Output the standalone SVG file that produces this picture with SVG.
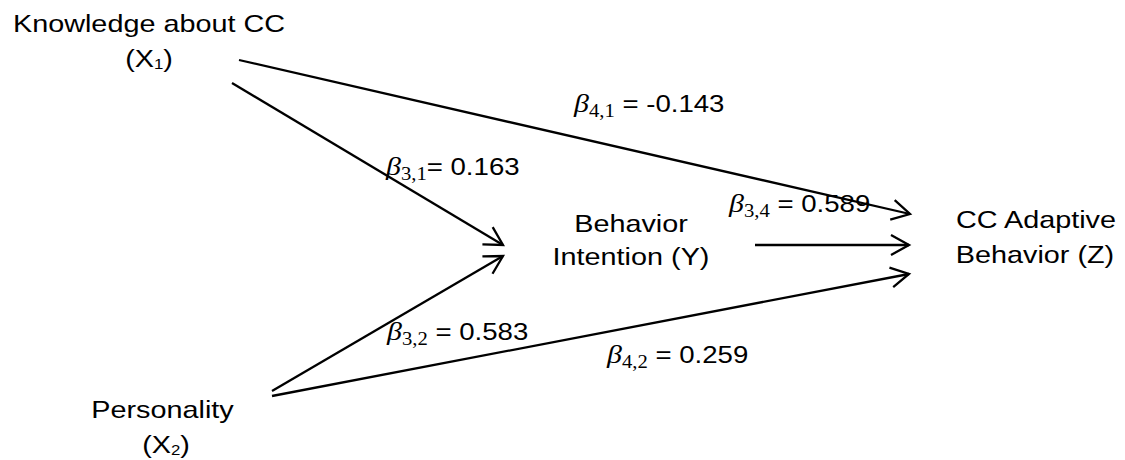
<svg xmlns="http://www.w3.org/2000/svg" width="1125" height="460" viewBox="0 0 1125 460">
<style>
text{font-family:"Liberation Sans",Arial,sans-serif;font-size:24px;fill:#000}
.n{text-anchor:middle}
.b{font-family:"Liberation Serif","DejaVu Serif",serif;font-style:italic;font-size:26px}
.s{font-family:"Liberation Serif","DejaVu Serif",serif;font-size:18px}
.sub{font-size:14px}
.c{fill:none;stroke:#000;stroke-width:2.3;marker-end:url(#arr)}
</style>
<defs>
<marker id="arr" markerUnits="userSpaceOnUse" markerWidth="24" markerHeight="24" refX="20" refY="11" orient="auto" overflow="visible">
<path d="M2,1 L20,11 L2,21" fill="none" stroke="#000" stroke-width="2.3"/>
</marker>
</defs>
<rect width="1125" height="460" fill="#fff"/>
<g id="connectors">
<line class="c" x1="239" y1="60" x2="910" y2="214"/>
<line class="c" x1="232" y1="83" x2="503" y2="245"/>
<line class="c" x1="272" y1="391" x2="503" y2="256"/>
<line class="c" x1="272" y1="396" x2="909" y2="274"/>
<line class="c" x1="755" y1="245" x2="909" y2="245"/>
</g>
<g id="node-x1">
<text class="n" transform="translate(149,32) scale(1.2,1)">Knowledge about CC</text>
<text class="n" transform="translate(149,67) scale(1.2,1)">(X<tspan class="sub" dy="2">1</tspan><tspan dy="-2">)</tspan></text>
</g>
<g id="node-x2">
<text class="n" transform="translate(162.5,418) scale(1.2,1)">Personality</text>
<text class="n" transform="translate(166,453) scale(1.2,1)">(X<tspan class="sub" dy="2">2</tspan><tspan dy="-2">)</tspan></text>
</g>
<g id="node-y">
<text class="n" transform="translate(631,232) scale(1.2,1)">Behavior</text>
<text class="n" transform="translate(631,265) scale(1.2,1)">Intention (Y)</text>
</g>
<g id="node-z">
<text class="n" transform="translate(1036,228) scale(1.2,1)">CC Adaptive</text>
<text class="n" transform="translate(1035,263) scale(1.2,1)">Behavior (Z)</text>
</g>
<g id="labels">
<text transform="translate(386,175) scale(1.15,1)"><tspan class="b">β</tspan><tspan class="s" dy="5">3,1</tspan><tspan dy="-5">= 0.163</tspan></text>
<text transform="translate(574,112) scale(1.15,1)"><tspan class="b">β</tspan><tspan class="s" dy="5">4,1</tspan><tspan dy="-5"> = -0.143</tspan></text>
<text transform="translate(729,212) scale(1.15,1)"><tspan class="b">β</tspan><tspan class="s" dy="5">3,4</tspan><tspan dy="-5"> = 0.589</tspan></text>
<text transform="translate(387,340) scale(1.15,1)"><tspan class="b">β</tspan><tspan class="s" dy="5">3,2</tspan><tspan dy="-5"> = 0.583</tspan></text>
<text transform="translate(607,363) scale(1.15,1)"><tspan class="b">β</tspan><tspan class="s" dy="5">4,2</tspan><tspan dy="-5"> = 0.259</tspan></text>
</g>
</svg>
